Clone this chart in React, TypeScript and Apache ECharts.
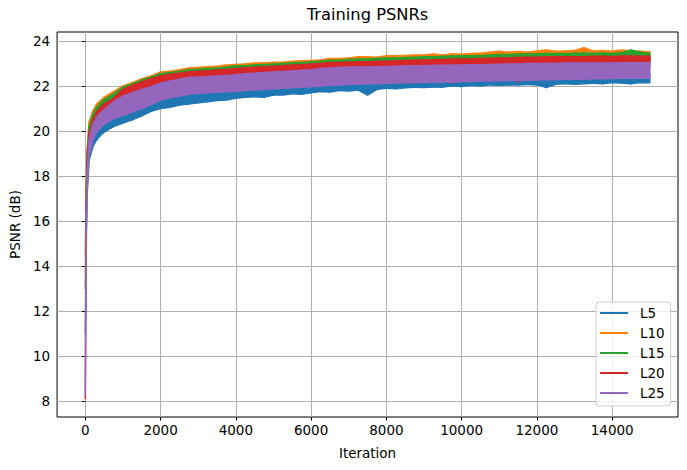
import React, { useEffect, useRef } from "react";
import * as echarts from "echarts";

// Iterations at which the band of each (very noisy) training curve was read.
const ITERATIONS = [
  0, 25, 50, 100, 200, 300, 400, 500, 750,
  1000, 1250, 1500, 1750, 2000, 2250, 2500, 2750, 3000,
  3250, 3500, 3750, 4000, 4250, 4500, 4750, 5000,
  5250, 5500, 5750, 6000, 6250, 6500, 6750, 7000,
  7250, 7500, 7750, 8000, 8250, 8500, 8750, 9000,
  9250, 9500, 9750, 10000, 10250, 10500, 10750, 11000,
  11250, 11500, 11750, 12000, 12250, 12500, 12750, 13000,
  13250, 13500, 13750, 14000, 14250, 14500, 14750, 15000,
];

// Lower / upper edge of each curve's noise band (PSNR, dB)
const L5_LOW = [
  11.0, 15.0, 17.2, 18.7, 19.3, 19.6, 19.8, 19.95, 20.2,
  20.35, 20.5, 20.68, 20.88, 21.0, 21.05, 21.15, 21.2, 21.25,
  21.3, 21.36, 21.38, 21.45, 21.5, 21.52, 21.5, 21.6,
  21.6, 21.66, 21.63, 21.7, 21.75, 21.73, 21.8, 21.78,
  21.82, 21.6, 21.85, 21.9, 21.88, 21.92, 21.95, 21.93,
  21.96, 21.95, 22.0, 21.98, 22.02, 22.0, 22.05, 22.03,
  22.05, 22.04, 22.07, 22.05, 21.93, 22.08, 22.1, 22.08,
  22.1, 22.12, 22.1, 22.15, 22.13, 22.1, 22.15, 22.15,
];
const L5_HIGH = [
  11.0, 15.8, 17.9, 19.4, 20.0, 20.3, 20.5, 20.65, 20.85,
  21.0, 21.1, 21.2, 21.3, 21.45, 21.5, 21.6, 21.7, 21.75,
  21.8, 21.85, 21.85, 21.9, 21.95, 22.0, 22.0, 22.05,
  22.05, 22.1, 22.1, 22.15, 22.2, 22.2, 22.2, 22.25,
  22.25, 22.25, 22.3, 22.3, 22.3, 22.35, 22.35, 22.35,
  22.35, 22.4, 22.4, 22.4, 22.4, 22.4, 22.45, 22.45,
  22.45, 22.45, 22.45, 22.45, 22.45, 22.5, 22.5, 22.5,
  22.5, 22.5, 22.5, 22.5, 22.5, 22.5, 22.5, 22.5,
];

const L10_LOW = [
  14.5, 17.0, 18.6, 19.8, 20.4, 20.75, 20.95, 21.1, 21.35,
  21.55, 21.7, 21.85, 21.95, 22.05, 22.1, 22.2, 22.25, 22.3,
  22.35, 22.38, 22.4, 22.45, 22.5, 22.52, 22.55, 22.58,
  22.6, 22.62, 22.65, 22.68, 22.7, 22.72, 22.75, 22.78,
  22.8, 22.8, 22.82, 22.85, 22.85, 22.88, 22.9, 22.9,
  22.92, 22.92, 22.95, 22.95, 22.95, 22.98, 23.0, 23.0,
  23.0, 23.02, 23.02, 23.05, 23.05, 23.05, 23.05, 23.08,
  23.08, 23.08, 23.1, 23.08, 23.1, 23.1, 23.1, 23.1,
];
const L10_HIGH = [
  14.5, 17.8, 19.2, 20.4, 20.9, 21.2, 21.35, 21.5, 21.75,
  22.0, 22.15, 22.32, 22.45, 22.62, 22.66, 22.72, 22.8, 22.82,
  22.86, 22.88, 22.93, 22.96, 22.98, 23.02, 23.03, 23.06,
  23.06, 23.1, 23.12, 23.13, 23.16, 23.22, 23.22, 23.25,
  23.3, 23.3, 23.28, 23.34, 23.35, 23.36, 23.38, 23.38,
  23.42, 23.38, 23.43, 23.41, 23.45, 23.46, 23.5, 23.55,
  23.5, 23.53, 23.5, 23.56, 23.6, 23.55, 23.56, 23.58,
  23.7, 23.56, 23.58, 23.55, 23.6, 23.56, 23.55, 23.52,
];

const L15_LOW = [
  13.0, 16.6, 18.4, 19.6, 20.25, 20.6, 20.8, 20.95, 21.2,
  21.4, 21.55, 21.7, 21.85, 21.95, 22.0, 22.1, 22.15, 22.2,
  22.52, 22.55, 22.58, 22.62, 22.65, 22.68, 22.7, 22.72,
  22.75, 22.78, 22.8, 22.82, 22.85, 22.88, 22.9, 22.92,
  22.93, 22.93, 22.95, 22.95, 22.97, 22.98, 23.0, 23.0,
  23.02, 23.03, 23.05, 23.05, 23.05, 23.07, 23.08, 23.1,
  23.1, 23.12, 23.13, 23.13, 23.15, 23.15, 23.15, 23.15,
  23.15, 23.17, 23.17, 23.15, 23.18, 23.18, 23.17, 23.17,
];
const L15_HIGH = [
  13.0, 17.5, 19.0, 20.2, 20.75, 21.05, 21.25, 21.4, 21.65,
  21.95, 22.1, 22.27, 22.4, 22.55, 22.6, 22.66, 22.72, 22.75,
  22.78, 22.8, 22.84, 22.9, 22.9, 22.94, 22.96, 22.98,
  23.0, 23.03, 23.05, 23.08, 23.1, 23.14, 23.15, 23.18,
  23.2, 23.2, 23.22, 23.24, 23.25, 23.27, 23.28, 23.3,
  23.3, 23.32, 23.33, 23.34, 23.35, 23.36, 23.38, 23.4,
  23.4, 23.42, 23.42, 23.43, 23.45, 23.44, 23.45, 23.46,
  23.47, 23.46, 23.47, 23.45, 23.48, 23.6, 23.5, 23.46,
];

const L20_LOW = [
  8.1, 16.0, 18.0, 19.3, 20.0, 20.35, 20.55, 20.7, 20.95,
  21.15, 21.35, 21.5, 21.65, 21.8, 21.9, 21.95, 22.0, 22.05,
  22.1, 22.12, 22.15, 22.2, 22.22, 22.25, 22.28, 22.3,
  22.33, 22.36, 22.4, 22.42, 22.45, 22.48, 22.5, 22.52,
  22.55, 22.55, 22.58, 22.6, 22.6, 22.62, 22.65, 22.65,
  22.67, 22.68, 22.12, 22.7, 22.72, 22.72, 22.75, 22.75,
  22.77, 22.18, 22.78, 22.8, 22.8, 22.82, 22.82, 22.83,
  22.84, 22.85, 22.85, 22.85, 22.86, 22.86, 22.87, 22.87,
];
const L20_HIGH = [
  8.1, 16.8, 18.7, 19.9, 20.5, 20.85, 21.05, 21.2, 21.45,
  21.85, 22.02, 22.18, 22.33, 22.45, 22.52, 22.57, 22.63, 22.66,
  22.68, 22.71, 22.73, 22.78, 22.8, 22.83, 22.86, 22.88,
  22.9, 22.93, 22.95, 22.98, 23.0, 23.04, 23.05, 23.07,
  23.08, 23.08, 23.1, 23.1, 23.12, 23.13, 23.15, 23.16,
  23.17, 23.18, 23.2, 23.2, 23.2, 23.22, 23.23, 23.25,
  23.25, 23.27, 23.28, 23.28, 23.3, 23.3, 23.3, 23.3,
  23.3, 23.32, 23.32, 23.3, 23.33, 23.33, 23.32, 23.32,
];

const L25_LOW = [
  8.3, 15.5, 17.5, 18.9, 19.6, 19.95, 20.15, 20.3, 20.55,
  20.7, 20.85, 21.0, 21.18, 21.38, 21.48, 21.56, 21.63, 21.67,
  21.7, 21.72, 21.74, 21.76, 21.8, 21.82, 21.85, 21.88,
  21.9, 21.92, 21.95, 21.97, 22.0, 22.03, 22.05, 22.08,
  22.08, 22.1, 22.1, 22.12, 22.13, 22.15, 22.15, 22.17,
  22.17, 22.18, 22.18, 22.2, 22.2, 22.22, 22.22, 22.23,
  22.24, 22.25, 22.26, 22.27, 22.28, 22.28, 22.3, 22.3,
  22.3, 22.32, 22.32, 22.33, 22.34, 22.34, 22.35, 22.35,
];
const L25_HIGH = [
  8.3, 16.3, 18.2, 19.6, 20.3, 20.6, 20.8, 20.95, 21.3,
  21.55, 21.7, 21.85, 21.97, 22.12, 22.22, 22.3, 22.38, 22.4,
  22.42, 22.45, 22.47, 22.5, 22.55, 22.57, 22.6, 22.62,
  22.65, 22.67, 22.7, 22.72, 22.78, 22.8, 22.82, 22.84,
  22.85, 22.85, 22.86, 22.87, 22.88, 22.9, 22.9, 22.9,
  22.92, 22.92, 22.93, 22.93, 22.95, 22.95, 22.96, 22.97,
  22.98, 22.98, 23.0, 23.0, 23.0, 23.0, 23.02, 23.02,
  23.02, 23.02, 23.02, 23.02, 23.03, 23.03, 23.03, 23.03,
];

const SERIES_NAMES = ["L5", "L10", "L15", "L20", "L25"];
const LOWS = [L5_LOW, L10_LOW, L15_LOW, L20_LOW, L25_LOW];
const HIGHS = [L5_HIGH, L10_HIGH, L15_HIGH, L20_HIGH, L25_HIGH];
const COLORS = ["#1f77b4", "#ff7f0e", "#2ca02c", "#d62728", "#9467bd"];

const X_TICKS = [0, 2000, 4000, 6000, 8000, 10000, 12000, 14000];
const Y_TICKS = [8, 10, 12, 14, 16, 18, 20, 22, 24];

const FONT = "DejaVu Sans";

export default function App() {
  const ref = useRef<HTMLDivElement>(null);

  useEffect(() => {
    document.body.style.margin = "0";
    if (!ref.current) return;
    const chart = echarts.init(ref.current, null, { renderer: "svg" });

    const n = ITERATIONS.length;
    const series = SERIES_NAMES.map((name, s) => {
      const color = COLORS[s];
      return {
        name,
        type: "custom",
        silent: true,
        color,
        itemStyle: { color },
        encode: { x: 0, y: [1, 2] },
        data: ITERATIONS.map((it, i) => [it, LOWS[s][i], HIGHS[s][i]]),
        renderItem: (params: any, api: any) => {
          const i = params.dataIndexInside;
          if (i >= n - 1) return null;
          const x0 = api.value(0, i);
          const lo0 = api.value(1, i);
          const hi0 = api.value(2, i);
          const x1 = api.value(0, i + 1);
          const lo1 = api.value(1, i + 1);
          const hi1 = api.value(2, i + 1);
          const pts = [
            api.coord([x0, lo0]),
            api.coord([x1, lo1]),
            api.coord([x1, hi1]),
            api.coord([x0, hi0]),
          ];
          return {
            type: "polygon",
            shape: { points: pts },
            style: {
              fill: color,
              stroke: color,
              lineWidth: 1.5,
              lineJoin: "round",
            },
          };
        },
      };
    });

    const tickFmt = (v: number) => String(v);

    const option = {
      animation: false,
      backgroundColor: "#ffffff",
      textStyle: { fontFamily: FONT },
      graphic: [
        {
          type: "text",
          x: 367.5,
          y: 14,
          style: {
            text: "Training PSNRs",
            fontFamily: FONT,
            fontSize: 16.3,
            fill: "#000",
            textAlign: "center",
            textVerticalAlign: "middle",
          },
        },
      ],
      grid: {
        left: 57,
        top: 32,
        width: 621,
        height: 385,
        show: true,
        borderColor: "#000",
        borderWidth: 1,
        backgroundColor: "transparent",
      },
      legend: {
        orient: "vertical",
        left: 596,
        top: 302,
        data: SERIES_NAMES,
        icon: "rect",
        itemWidth: 28,
        itemHeight: 2,
        itemGap: 6,
        padding: [4, 6, 6, 4],
        backgroundColor: "rgba(255,255,255,0.8)",
        borderColor: "#cccccc",
        borderWidth: 1,
        borderRadius: 3,
        textStyle: {
          fontFamily: FONT,
          fontSize: 13.5,
          color: "#000",
          padding: [0, 0, 0, 7],
        },
      },
      xAxis: {
        type: "value",
        min: -750,
        max: 15749,
        name: "Iteration",
        nameLocation: "middle",
        nameGap: 29,
        nameTextStyle: { fontFamily: FONT, fontSize: 13.5, color: "#000" },
        axisLine: { show: false },
        axisTick: {
          show: true,
          length: 3.5,
          lineStyle: { color: "#000", width: 1 },
          customValues: X_TICKS,
        },
        axisLabel: {
          color: "#000",
          fontFamily: FONT,
          fontSize: 13.5,
          margin: 6,
          customValues: X_TICKS,
          formatter: tickFmt,
        },
        splitLine: { show: true, lineStyle: { color: "#b0b0b0", width: 1 } },
      },
      yAxis: {
        type: "value",
        min: 7.29,
        max: 24.4,
        name: "PSNR (dB)",
        nameLocation: "middle",
        nameGap: 33,
        nameTextStyle: { fontFamily: FONT, fontSize: 13.5, color: "#000" },
        axisLine: { show: false },
        axisTick: {
          show: true,
          length: 3.5,
          lineStyle: { color: "#000", width: 1 },
          customValues: Y_TICKS,
        },
        axisLabel: {
          color: "#000",
          fontFamily: FONT,
          fontSize: 13.5,
          margin: 7,
          customValues: Y_TICKS,
          formatter: tickFmt,
        },
        splitLine: { show: true, lineStyle: { color: "#b0b0b0", width: 1 } },
      },
      series,
    };

    chart.setOption(option as any);
    return () => chart.dispose();
  }, []);

  return <div ref={ref} style={{ width: 687, height: 470 }} />;
}
